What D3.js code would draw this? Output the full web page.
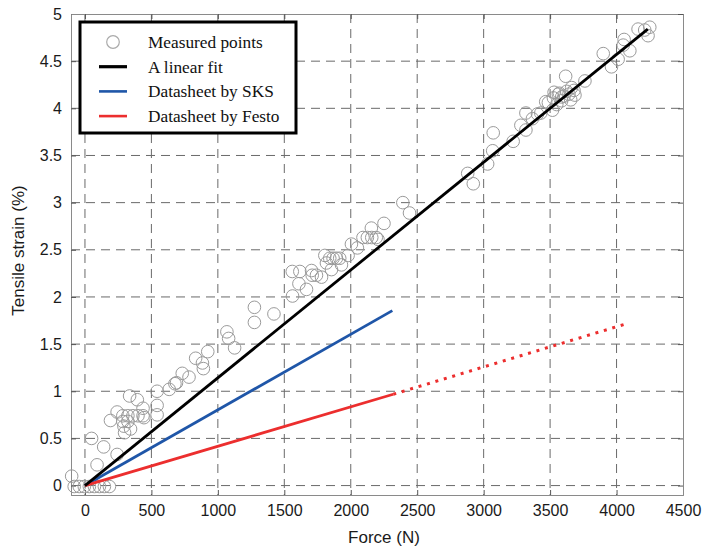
<!DOCTYPE html>
<html>
<head>
<meta charset="utf-8">
<script src="https://cdn.jsdelivr.net/npm/d3@7"></script>
<style>
  body { margin: 0; background: #fff; }
  text { font-family: "Liberation Sans", Arial, sans-serif; }
</style>
</head>
<body>
<div id="chart"></div>
<script>
// measured points (force in N, strain in %)
const measuredForce = [
  -100, -81, -43, -5, 33, 71, 109, 146, 184,
  50, 141, 91, 242, 192, 242,
  285, 323, 361, 399, 437, 285, 323, 293, 298, 343,
  336, 394, 437, 444, 543, 543, 543, 634, 677, 689,
  732, 783, 833, 884, 891, 924, 1068, 1081, 1126,
  1275, 1275, 1422, 1562, 1560, 1617, 1610, 1667, 1705, 1710, 1742, 1780,
  1805, 1817, 1842, 1867, 1892, 1917, 1855, 1930, 1980, 2005, 2050,
  2092, 2125, 2158, 2192, 2155, 2205, 2250, 2392, 2442,
  2880, 2922, 3030, 3068, 3072, 3222, 3280, 3318, 3318, 3367, 3405, 3430,
  3467, 3518, 3530, 3570, 3605, 3642, 3680, 3655,
  3487, 3525, 3562, 3587, 3625, 3662, 3687, 3550, 3587,
  3617, 3762, 3900, 3962, 4012, 4050, 4057, 4100, 4162, 4212, 4237, 4250
];
const measuredStrain = [
  0.10, -0.01, -0.01, -0.01, -0.01, -0.01, -0.01, -0.01, -0.01,
  0.50, 0.41, 0.22, 0.33, 0.69, 0.78,
  0.74, 0.74, 0.74, 0.74, 0.74, 0.68, 0.68, 0.63, 0.56, 0.60,
  0.95, 0.91, 0.82, 0.72, 1.00, 0.85, 0.75, 1.02, 1.08, 1.09,
  1.19, 1.15, 1.35, 1.30, 1.24, 1.42, 1.63, 1.56, 1.46,
  1.89, 1.73, 1.82, 2.01, 2.27, 2.27, 2.14, 2.08, 2.28, 2.23, 2.23, 2.21,
  2.44, 2.36, 2.41, 2.41, 2.41, 2.41, 2.29, 2.34, 2.44, 2.56, 2.52,
  2.63, 2.63, 2.63, 2.63, 2.73, 2.61, 2.78, 3.00, 2.89,
  3.31, 3.20, 3.41, 3.55, 3.74, 3.65, 3.82, 3.77, 3.95, 3.89, 3.94, 3.95,
  4.07, 3.98, 4.17, 4.16, 4.13, 4.15, 4.19, 4.09,
  4.06, 4.11, 4.15, 4.12, 4.18, 4.22, 4.14, 4.04, 4.08,
  4.34, 4.29, 4.58, 4.44, 4.52, 4.67, 4.73, 4.61, 4.84, 4.83, 4.77, 4.86
];

// linear fit and datasheet lines
const fitForce = [0, 4235];
const fitStrain = [0, 4.84];
const sksForce = [0, 2313];
const sksStrain = [0, 1.855];
const festoForce = [0, 2320];
const festoStrain = [0, 0.968];
const festoExtForce = [2320, 4068];
const festoExtStrain = [0.968, 1.713];

const xTicks = [0, 500, 1000, 1500, 2000, 2500, 3000, 3500, 4000, 4500];
const yTicks = [0, 0.5, 1, 1.5, 2, 2.5, 3, 3.5, 4, 4.5, 5];
const legendLabels = ["Measured points", "A linear fit", "Datasheet by SKS", "Datasheet by Festo"];

const width = 703, height = 550;
const margin = {left: 71, right: 20, top: 14, bottom: 55};
const w = width - margin.left - margin.right;
const h = height - margin.top - margin.bottom;

const BLUE = "#1f56a8", RED = "#ec2e2e", GRAY = "#9a9a9a";

let svg = d3.select("#chart")
  .append("svg")
  .attr("width", width)
  .attr("height", height)
  .append("g")
  .attr("transform", `translate(${margin.left}, ${margin.top})`);

let x = d3.scaleLinear().domain([-105, 4500]).range([0, w]);
let y = d3.scaleLinear().domain([-0.1, 5]).range([h, 0]);

// grid
svg.append("g")
  .selectAll("line")
  .data(xTicks.slice(0, -1))
  .enter()
  .append("line")
  .attr("x1", d => x(d)).attr("x2", d => x(d))
  .attr("y1", 0).attr("y2", h)
  .attr("stroke", "#6a6a6a")
  .attr("stroke-width", 1)
  .attr("stroke-dasharray", "9,6");

svg.append("g")
  .selectAll("line")
  .data(yTicks.slice(1, -1).concat([0]))
  .enter()
  .append("line")
  .attr("x1", 0).attr("x2", w)
  .attr("y1", d => y(d)).attr("y2", d => y(d))
  .attr("stroke", "#6a6a6a")
  .attr("stroke-width", 1)
  .attr("stroke-dasharray", "9,6");

// axes
let xAxis = svg.append("g")
  .attr("transform", `translate(0, ${h})`)
  .call(d3.axisBottom(x).tickValues(xTicks).tickSize(-5).tickPadding(10).tickFormat(d3.format("d")));
let yAxis = svg.append("g")
  .call(d3.axisLeft(y).tickValues(yTicks).tickSize(-5).tickPadding(9).tickFormat(d3.format("")));
svg.append("g")
  .call(d3.axisTop(x).tickValues(xTicks).tickSize(-5).tickFormat(""));
svg.append("g")
  .attr("transform", `translate(${w}, 0)`)
  .call(d3.axisRight(y).tickValues(yTicks).tickSize(-5).tickFormat(""));

svg.selectAll(".domain").attr("stroke", "#8a8a8a");
svg.selectAll(".tick line").attr("stroke", "#555");
svg.selectAll(".tick text")
  .attr("fill", "#1a1a1a")
  .style("font-size", "16px")
  .style("font-family", "'Liberation Sans', Arial, sans-serif");

// measured points
svg.append("g")
  .selectAll("circle")
  .data(measuredForce.map((f, i) => ({f: f, s: measuredStrain[i]})))
  .enter()
  .append("circle")
  .attr("cx", d => x(d.f))
  .attr("cy", d => y(d.s))
  .attr("r", 6.3)
  .attr("fill", "none")
  .attr("stroke", GRAY)
  .attr("stroke-width", 1);

let line = d3.line().x(d => x(d[0])).y(d => y(d[1]));
function pairs(a, b) { return a.map((v, i) => [v, b[i]]); }

svg.append("path").datum(pairs(sksForce, sksStrain))
  .attr("d", line).attr("fill", "none").attr("stroke", BLUE).attr("stroke-width", 2.8);
svg.append("path").datum(pairs(festoForce, festoStrain))
  .attr("d", line).attr("fill", "none").attr("stroke", RED).attr("stroke-width", 2.8);
svg.append("path").datum(pairs(festoExtForce, festoExtStrain))
  .attr("d", line).attr("fill", "none").attr("stroke", RED).attr("stroke-width", 3)
  .attr("stroke-dasharray", "3,5.8");
svg.append("path").datum(pairs(fitForce, fitStrain))
  .attr("d", line).attr("fill", "none").attr("stroke", "#000").attr("stroke-width", 2.8);

// axis titles
svg.append("text")
  .attr("x", x(2250))
  .attr("y", h + 48)
  .style("text-anchor", "middle")
  .style("font-size", "17px")
  .attr("fill", "#1a1a1a")
  .text("Force (N)");

svg.append("text")
  .attr("transform", `translate(${-47}, ${h / 2 - 4}) rotate(-90)`)
  .style("text-anchor", "middle")
  .style("font-size", "17px")
  .attr("fill", "#1a1a1a")
  .text("Tensile strain (%)");

// legend
let legend = svg.append("g").attr("transform", "translate(9, 8)");
legend.append("rect")
  .attr("x", 0).attr("y", 0)
  .attr("width", 216).attr("height", 111)
  .attr("fill", "#fff")
  .attr("stroke", "#000")
  .attr("stroke-width", 3);

let rows = legend.selectAll(".row")
  .data(legendLabels)
  .enter()
  .append("g")
  .attr("transform", (d, i) => `translate(0, ${20 + i * 24.7})`);

rows.append("text")
  .attr("x", 68)
  .attr("y", 0)
  .attr("dy", "0.35em")
  .style("font-family", "'Liberation Serif', 'Times New Roman', serif")
  .style("font-size", "17.3px")
  .attr("fill", "#111")
  .text(d => d);

rows.each(function(d, i) {
  let g = d3.select(this);
  if (i == 0) {
    g.append("circle").attr("cx", 33).attr("cy", 0).attr("r", 6.3)
      .attr("fill", "none").attr("stroke", "#aaa").attr("stroke-width", 1.2);
  } else {
    g.append("line").attr("x1", 19).attr("x2", 47).attr("y1", 0).attr("y2", 0)
      .attr("stroke", ["#000", BLUE, RED][i - 1])
      .attr("stroke-width", i == 1 ? 3.2 : 2.6);
  }
});
</script>
</body>
</html>
